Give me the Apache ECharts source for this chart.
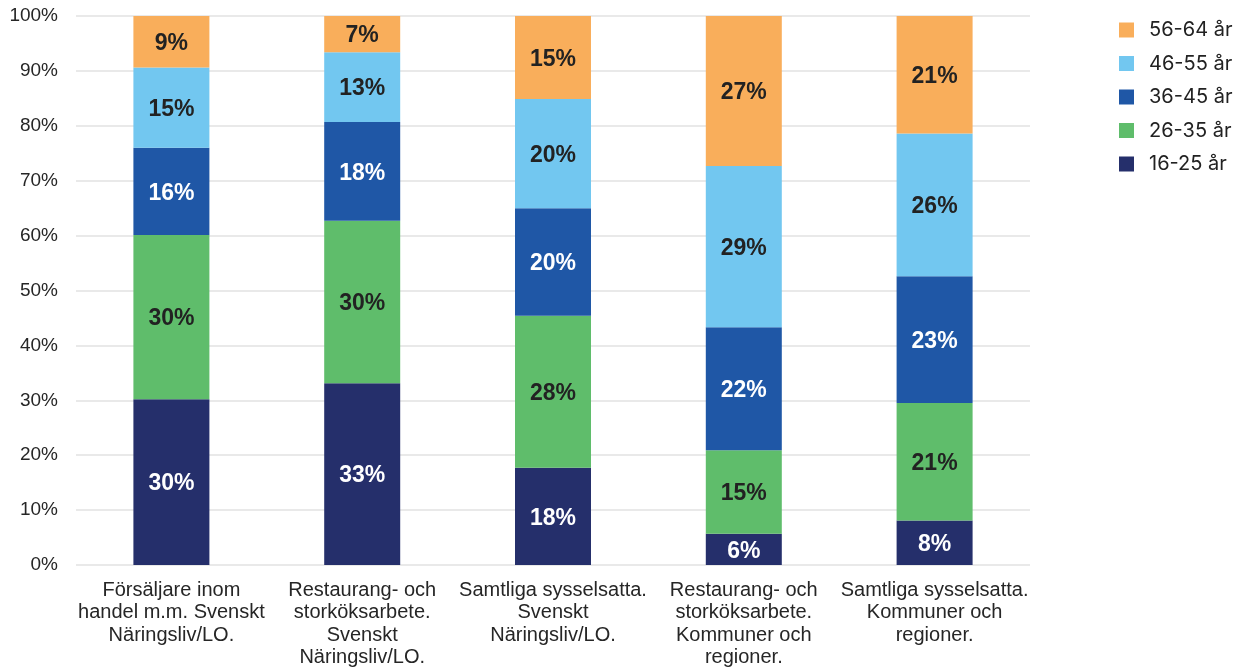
<!DOCTYPE html>
<html>
<head>
<meta charset="utf-8">
<script src="https://cdn.jsdelivr.net/npm/echarts@6/dist/echarts.min.js"></script>
<style>
html,body{margin:0;padding:0;background:#fff;}
#chart{width:1244px;height:672px;}
</style>
</head>
<body>
<div id="chart"></div>
<script>
const categories = [
  'Försäljare inom\nhandel m.m. Svenskt\nNäringsliv/LO.',
  'Restaurang- och\nstorköksarbete.\nSvenskt\nNäringsliv/LO.',
  'Samtliga sysselsatta.\nSvenskt\nNäringsliv/LO.',
  'Restaurang- och\nstorköksarbete.\nKommuner och\nregioner.',
  'Samtliga sysselsatta.\nKommuner och\nregioner.'
];
const seriesNames = ['16-25 år', '26-35 år', '36-45 år', '46-55 år', '56-64 år'];
const age16_25 = [30.2, 33.1, 17.7, 5.7, 8.1];
const age26_35 = [29.9, 29.6, 27.7, 15.2, 21.4];
const age36_45 = [15.9, 18.0, 19.6, 22.4, 23.1];
const age46_55 = [14.6, 12.7, 19.9, 29.4, 26.0];
const age56_64 = [9.4, 6.6, 15.1, 27.3, 21.4];
const seriesValues = [age16_25, age26_35, age36_45, age46_55, age56_64];
const colors = ['#252F6B', '#5FBD6B', '#1F57A6', '#72C7F0', '#F9AE5B'];
const labelColors = ['#ffffff', '#222222', '#ffffff', '#222222', '#222222'];

const chart = echarts.init(document.getElementById('chart'));
chart.setOption({
  animation: false,
  grid: { left: 76, right: 214, top: 16, bottom: 107, containLabel: false },
  legend: {
    data: seriesNames.slice().reverse(),
    orient: 'vertical',
    left: 1114,
    top: 15,
    itemWidth: 15,
    itemHeight: 15,
    itemGap: 13.5,
    icon: 'rect',
    textStyle: { fontFamily: 'Inter', fontSize: 20, color: '#222', lineHeight: 18, padding: [0, 0, 0, 10] }
  },
  xAxis: {
    type: 'category',
    data: categories,
    axisLine: { show: false },
    axisTick: { show: false },
    axisLabel: {
      interval: 0,
      margin: 14,
      fontFamily: 'Liberation Sans',
      fontSize: 20,
      lineHeight: 22.5,
      color: '#262626',
      align: 'center'
    }
  },
  yAxis: {
    type: 'value',
    min: 0,
    max: 100,
    interval: 10,
    axisLine: { show: false },
    axisTick: { show: false },
    splitLine: { lineStyle: { color: '#e2e2e2', width: 1.5 } },
    axisLabel: {
      formatter: '{value}%',
      margin: 18,
      fontFamily: 'Liberation Sans',
      fontSize: 19,
      color: '#262626'
    }
  },
  series: seriesNames.map((name, i) => ({
    name: name,
    type: 'bar',
    stack: 'total',
    barWidth: 76,
    data: seriesValues[i],
    itemStyle: { color: colors[i] },
    label: {
      show: true,
      position: 'inside',
      offset: [0, 2],
      formatter: p => Math.round(p.value) + '%',
      fontFamily: 'Liberation Sans',
      fontWeight: 'bold',
      fontSize: 23,
      color: labelColors[i]
    }
  }))
});
</script>
</body>
</html>
